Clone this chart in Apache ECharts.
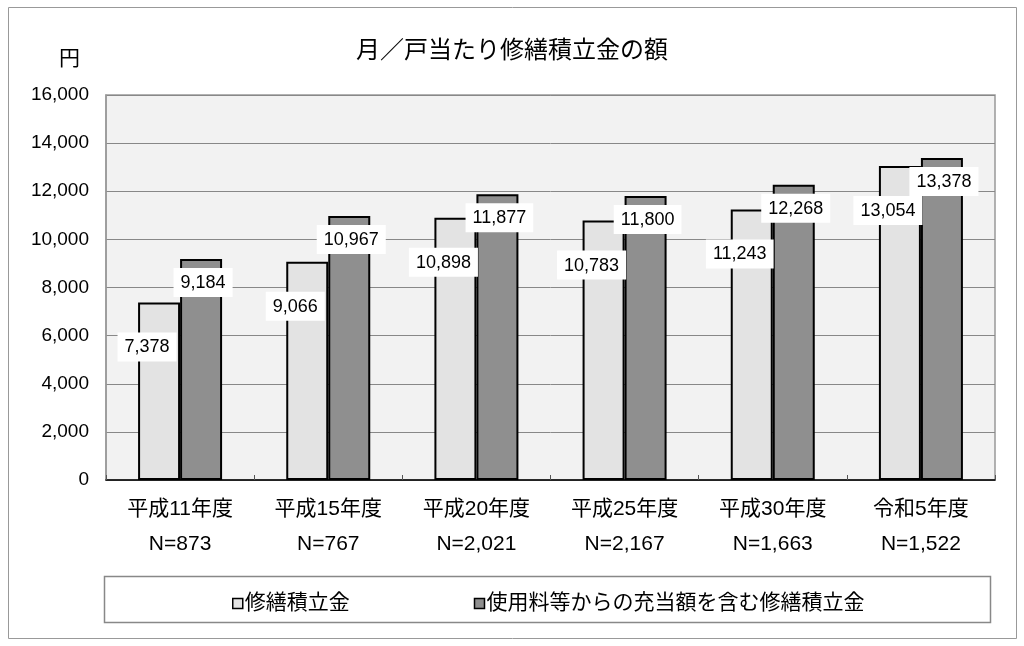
<!DOCTYPE html>
<html>
<head>
<meta charset="utf-8">
<script src="https://cdn.jsdelivr.net/npm/echarts@6/dist/echarts.min.js"></script>
<style>
html, body { margin: 0; padding: 0; background: #fff; }
#main { width: 1024px; height: 646px; }
</style>
</head>
<body>
<div id="main"></div>
<script>
  // データ
  var categories = ['平成11年度\nN=873', '平成15年度\nN=767', '平成20年度\nN=2,021', '平成25年度\nN=2,167', '平成30年度\nN=1,663', '令和5年度\nN=1,522'];
  var shuzen = [7378, 9066, 10898, 10783, 11243, 13054];
  var shuzenJuto = [9184, 10967, 11877, 11800, 12268, 13378];
  var seriesNames = ['修繕積立金', '使用料等からの充当額を含む修繕積立金'];

  var font = '"Liberation Sans", "Noto Sans CJK JP", sans-serif';
  var myChart = echarts.init(document.getElementById('main'));

  function fmt(v) {
    return String(v).replace(/\B(?=(\d{3})+(?!\d))/g, ',');
  }

  var labelBase = {
    show: true,
    position: 'insideTop',
    color: '#000',
    fontSize: 18,
    fontFamily: font,
    backgroundColor: '#fff',
    padding: [6, 7, 5, 7],
    formatter: function (p) { return fmt(p.value); }
  };

  var option = {
    animation: false,
    textStyle: { fontFamily: font },
    title: {
      text: '月／戸当たり修繕積立金の額',
      left: 'center',
      top: 34,
      textStyle: { fontSize: 24, fontWeight: 'normal', color: '#000', fontFamily: font }
    },
    graphic: [
      {
        type: 'rect',
        shape: { x: 8.5, y: 7.5, width: 1008, height: 631 },
        style: { fill: null, stroke: '#999', lineWidth: 1 },
        z: -10
      },
      {
        type: 'rect',
        shape: { x: 104.5, y: 576.5, width: 886, height: 46 },
        style: { fill: '#fff', stroke: '#888', lineWidth: 1.5 },
        z: -5
      },
      {
        type: 'text',
        left: 59,
        top: 49,
        style: { text: '円', fill: '#000', font: '21px ' + font }
      }
    ],
    legend: {
      data: seriesNames,
      left: 227,
      top: 588,
      itemGap: 124,
      itemWidth: 10,
      itemHeight: 10,
      icon: 'rect',
      itemStyle: { borderColor: '#000', borderWidth: 1.5 },
      textStyle: { fontSize: 21, color: '#000', fontFamily: font, padding: [0, 0, 0, -3] }
    },
    grid: {
      left: 106,
      right: 29,
      top: 95,
      bottom: 166,
      show: true,
      backgroundColor: '#f2f2f2',
      borderColor: '#999',
      borderWidth: 1.5
    },
    xAxis: {
      type: 'category',
      data: categories,
      axisLine: { lineStyle: { color: '#000', width: 1.5 } },
      axisTick: { show: true, inside: true, length: 5, lineStyle: { color: '#555' } },
      axisLabel: { color: '#000', fontSize: 21, lineHeight: 35, margin: 12, fontFamily: font }
    },
    yAxis: {
      type: 'value',
      min: 0,
      max: 16000,
      interval: 2000,
      axisLine: { show: true, lineStyle: { color: '#999', width: 1.5 } },
      axisTick: { show: false },
      splitLine: { lineStyle: { color: '#888', width: 1 } },
      axisLabel: {
        color: '#000',
        fontSize: 19,
        margin: 17,
        fontFamily: font,
        formatter: function (v) { return fmt(v); }
      }
    },
    series: [
      {
        name: seriesNames[0],
        type: 'bar',
        data: shuzen,
        barWidth: 42,
        barGap: '0%',
        itemStyle: { color: '#e3e3e3', borderColor: '#000', borderWidth: 2 },
        label: Object.assign({}, labelBase, { offset: [-12, 25] })
      },
      {
        name: seriesNames[1],
        type: 'bar',
        data: shuzenJuto,
        barWidth: 42,
        barGap: '0%',
        itemStyle: { color: '#8f8f8f', borderColor: '#000', borderWidth: 2 },
        label: Object.assign({}, labelBase, { offset: [2, 4] })
      }
    ]
  };

  myChart.setOption(option);
</script>
</body>
</html>
